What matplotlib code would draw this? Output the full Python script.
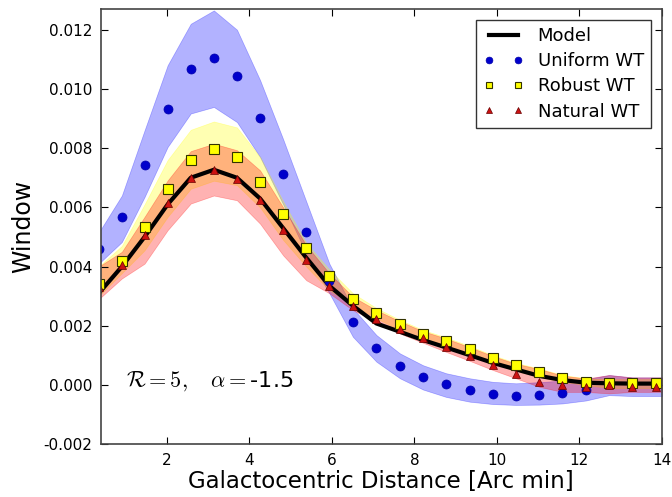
import matplotlib
matplotlib.use("Agg")
import matplotlib.pyplot as plt

# -----------------------------------------------------------------
# data

# galactocentric distance of the sampled points [arcmin]
dist = [0.35, 0.91, 1.46, 2.02, 2.58, 3.14, 3.70, 4.26, 4.82, 5.38, 5.94, 6.51, 7.08,
        7.65, 8.21, 8.77, 9.34, 9.90, 10.46, 11.03, 11.59, 12.16, 12.72, 13.28, 13.85]

# model curve and bands run to the edge of the plot
band_x = dist + [14.0]

model = [0.0031, 0.0040, 0.0050, 0.0061, 0.0070, 0.00727, 0.0070, 0.0063, 0.0053, 0.0043,
         0.00335, 0.00268, 0.00208, 0.0018, 0.00152, 0.00127, 0.00101, 0.00075, 0.00053,
         0.00031, 0.00017, 0.00008, 0.00006, 0.00005, 0.00005, 0.00005]

uniform = [0.0046, 0.00568, 0.00744, 0.00931, 0.01066, 0.01105, 0.01045, 0.00901, 0.00712,
           0.00516, 0.00350, 0.00212, 0.00124, 0.00066, 0.00027, 0.00003, -0.00017, -0.00030,
           -0.00037, -0.00034, -0.00028, -0.00016, 0.00002, 0.00001, 0.00001]
uniform_hi = [0.00515, 0.0064, 0.0086, 0.0108, 0.0122, 0.01265, 0.0120, 0.0103, 0.0083, 0.0062,
              0.0041, 0.00259, 0.00169, 0.00107, 0.00067, 0.00040, 0.00023, 0.00011, 0.00006,
              0.00010, 0.00015, 0.00020, 0.00034, 0.00026, 0.00026, 0.00026]
uniform_lo = [0.0041, 0.00483, 0.00635, 0.00804, 0.00917, 0.00939, 0.00888, 0.0077, 0.0061,
              0.00445, 0.0031, 0.00163, 0.00079, 0.00023, -0.00015, -0.00040, -0.00056, -0.00064,
              -0.00067, -0.00066, -0.00062, -0.00052, -0.00034, -0.00037, -0.00037, -0.00037]

robust = [0.0034, 0.00419, 0.00534, 0.00663, 0.00759, 0.00796, 0.00769, 0.00686, 0.00576,
          0.00463, 0.00368, 0.00291, 0.00242, 0.00206, 0.00174, 0.00149, 0.00122, 0.00092,
          0.00067, 0.00043, 0.00025, 0.00011, 0.00006, 0.00006, 0.00006]
robust_hi = [0.0040, 0.0047, 0.0061, 0.0076, 0.00862, 0.00890, 0.0087, 0.0077, 0.0062, 0.0048,
             0.0039, 0.0031, 0.0026, 0.0022, 0.00186, 0.00161, 0.00132, 0.00101, 0.00075,
             0.00056, 0.00034, 0.00023, 0.0002, 0.0002, 0.0002, 0.0002]
robust_lo = [0.0030, 0.00378, 0.00455, 0.00568, 0.00663, 0.0069, 0.00675, 0.0060, 0.0049,
             0.0040, 0.0032, 0.0027, 0.00225, 0.00186, 0.00154, 0.00129, 0.00101, 0.00073,
             0.00048, 0.00028, 0.00011, 0.0, -0.0001, -0.0001, -0.0001, -0.0001]

natural = [0.0033, 0.00405, 0.00506, 0.00615, 0.00699, 0.00725, 0.00697, 0.00624, 0.00523,
           0.00422, 0.00334, 0.00268, 0.00222, 0.00191, 0.00158, 0.00129, 0.00099, 0.00067,
           0.00037, 0.00011, 0.0, -0.00006, 0.0, -0.00008, -0.00008]
natural_hi = [0.0040, 0.0045, 0.00568, 0.00691, 0.0079, 0.00815, 0.00793, 0.00725, 0.0060,
              0.00472, 0.00377, 0.00298, 0.00253, 0.00215, 0.00182, 0.00157, 0.00128, 0.00098,
              0.00072, 0.00054, 0.00032, 0.00022, 0.00034, 0.00026, 0.00026, 0.00026]
natural_lo = [0.0029, 0.0036, 0.0041, 0.00523, 0.00613, 0.0064, 0.00624, 0.00545, 0.00438,
              0.00354, 0.0031, 0.00253, 0.00214, 0.00174, 0.00143, 0.00112, 0.00082, 0.00051,
              0.00023, -0.00006, -0.00023, -0.00023, -0.00028, -0.00023, -0.00023, -0.00023]

xticks = [2, 4, 6, 8, 10, 12, 14]
yticks = [-0.002, 0.000, 0.002, 0.004, 0.006, 0.008, 0.010, 0.012]

# -----------------------------------------------------------------

plt.rcParams['axes.unicode_minus'] = False
plt.rcParams['mathtext.fontset'] = 'cm'

fig = plt.figure(figsize=(6.72, 4.97), dpi=100)
ax = fig.add_axes([0.150, 0.106, 0.835, 0.876])

# shaded bands (red over yellow gives the orange overlap)
ax.fill_between(band_x, uniform_lo, uniform_hi, color='blue', alpha=0.3, lw=0.5)
ax.fill_between(band_x, robust_lo, robust_hi, color='yellow', alpha=0.3, lw=0.5)
ax.fill_between(band_x, natural_lo, natural_hi, color='red', alpha=0.3, lw=0.5)

ax.plot(band_x, model, color='black', lw=3, label="Model")
ax.plot(dist, uniform, 'o', color='#0000cc', mec='#0000aa', mew=0.5, ms=6.5, label="Uniform WT")
ax.plot(dist, robust, 's', color='yellow', mec='#333300', mew=0.8, ms=6.5, label="Robust WT")
ax.plot(dist, natural, '^', color='#cc1111', mec='#660000', mew=0.5, ms=6, label="Natural WT")

ax.text(1.0, 0.00015, r"$\mathcal{R}=5,\quad\alpha=$-1.5", fontsize=16, va='center')

# axis details
ax.set_xlim(0.4, 14)
ax.set_ylim(-0.002, 0.0127)
ax.set_xticks(xticks)
ax.set_yticks(yticks)
ax.set_yticklabels(["{:.3f}".format(v) for v in yticks])
ax.tick_params(direction='in', top=True, right=True, labelsize=11, length=5, pad=6)
for spine in ax.spines.values():
    spine.set_linewidth(1.2)
    spine.set_color('#444444')
ax.set_xlabel("Galactocentric Distance [Arc min]", fontsize=16.5, labelpad=2)
ax.set_ylabel("Window", fontsize=17, labelpad=6)

leg = ax.legend(loc='upper right', numpoints=2, fontsize=13, fancybox=False, markerscale=0.75,
                borderaxespad=0.6, handlelength=2.2, labelspacing=0.4)
leg.get_frame().set_edgecolor('black')
leg.get_frame().set_linewidth(1.0)

plt.savefig("out.png", dpi=100)
plt.close()
